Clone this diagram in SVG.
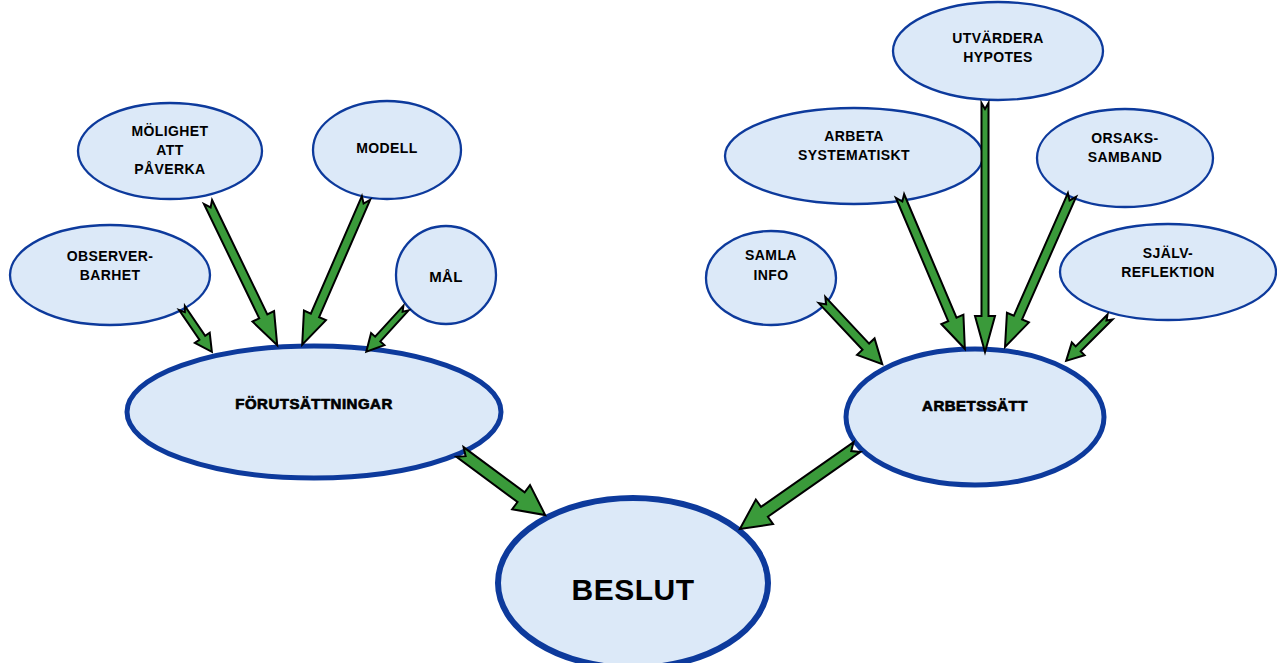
<svg xmlns="http://www.w3.org/2000/svg" width="1277" height="663" viewBox="0 0 1277 663">
<defs>
<style>
.n{fill:#dce9f8;stroke:#0d3a9c;stroke-width:2.3}
.big{stroke-width:5}
.huge{stroke-width:6}
.t{font-family:"Liberation Sans",Arial,sans-serif;font-weight:bold;font-size:14px;letter-spacing:0.4px;fill:#000;text-anchor:middle}
.tm{font-size:15px;letter-spacing:0.5px;stroke:#000;stroke-width:0.7}
.tb{font-size:30px;letter-spacing:0.5px}
.a{fill:#3a9a3a;stroke:#000;stroke-width:2;stroke-linejoin:miter}
</style>
</defs>
<rect width="1277" height="663" fill="#fff"/>
<g id="observerbarhet"><ellipse class="n" cx="110" cy="275" rx="100" ry="50"/><text class="t" x="110" y="261">OBSERVER-</text><text class="t" x="110" y="280">BARHET</text></g>
<g id="molighet"><ellipse class="n" cx="170" cy="151" rx="92" ry="48"/><text class="t" x="170" y="136">MÖLIGHET</text><text class="t" x="170" y="155">ATT</text><text class="t" x="170" y="174">PÅVERKA</text></g>
<g id="modell"><ellipse class="n" cx="387" cy="150" rx="74" ry="49"/><text class="t" x="387" y="153">MODELL</text></g>
<g id="mal"><ellipse class="n" cx="446" cy="275" rx="50" ry="49"/><text class="t" x="446" y="282" style="font-size:15px">MÅL</text></g>
<g id="forutsattningar"><ellipse class="n big" cx="314" cy="412" rx="187" ry="66"/><text class="t tm" x="314" y="409">FÖRUTSÄTTNINGAR</text></g>
<g id="beslut"><ellipse class="n huge" cx="633" cy="583" rx="135" ry="85"/><text class="t tb" x="633" y="600">BESLUT</text></g>
<g id="utvardera"><ellipse class="n" cx="998" cy="51" rx="105" ry="49"/><text class="t" x="998" y="43">UTVÄRDERA</text><text class="t" x="998" y="62">HYPOTES</text></g>
<g id="arbeta"><ellipse class="n" cx="854" cy="156" rx="129" ry="48"/><text class="t" x="854" y="141">ARBETA</text><text class="t" x="854" y="160">SYSTEMATISKT</text></g>
<g id="orsaks"><ellipse class="n" cx="1125" cy="158" rx="88" ry="49"/><text class="t" x="1125" y="143">ORSAKS-</text><text class="t" x="1125" y="162">SAMBAND</text></g>
<g id="samla"><ellipse class="n" cx="771" cy="278" rx="65" ry="47"/><text class="t" x="771" y="260">SAMLA</text><text class="t" x="771" y="280">INFO</text></g>
<g id="sjalv"><ellipse class="n" cx="1168" cy="272" rx="108" ry="48"/><text class="t" x="1168" y="258">SJÄLV-</text><text class="t" x="1168" y="277">REFLEKTION</text></g>
<g id="arbetssatt"><ellipse class="n big" cx="975" cy="417" rx="129" ry="68"/><text class="t tm" x="975" y="411">ARBETSSÄTT</text></g>
<g id="connectors">
<polygon class="a" transform="translate(182,308) rotate(55.7)" points="0,-3.5 36,-3.5 36,-9 53,0 36,9 36,3.5 0,3.5 5,0"/>
<polygon class="a" transform="translate(208,202) rotate(64.2)" points="0,-4.5 127,-4.5 127,-12 159,0 127,12 127,4.5 0,4.5 6,0"/>
<polygon class="a" transform="translate(366,198) rotate(113.5)" points="0,-4.5 128,-4.5 128,-12 160,0 128,12 128,4.5 0,4.5 6,0"/>
<polygon class="a" transform="translate(406,308) rotate(132.3)" points="0,-3.5 42,-3.5 42,-9 59,0 42,9 42,3.5 0,3.5 5,0"/>
<polygon class="a" transform="translate(460,452) rotate(36.5)" points="0,-6 76,-6 76,-15 106,0 76,15 76,6 0,6 7,0"/>
<polygon class="a" transform="translate(857,447) rotate(145)" points="0,-6 113,-6 113,-15 143,0 113,15 113,6 0,6 7,0"/>
<polygon class="a" transform="translate(822,300) rotate(46.8)" points="0,-4.5 64,-4.5 64,-12 88,0 64,12 64,4.5 0,4.5 6,0"/>
<polygon class="a" transform="translate(900,196) rotate(67)" points="0,-4.5 134,-4.5 134,-12 166,0 134,12 134,4.5 0,4.5 6,0"/>
<polygon class="a" transform="translate(985,103) rotate(90)" points="0,-3.5 213,-3.5 213,-10 249,0 213,10 213,3.5 0,3.5 6,0"/>
<polygon class="a" transform="translate(1072,195) rotate(113.8)" points="0,-4.5 134,-4.5 134,-12 166,0 134,12 134,4.5 0,4.5 6,0"/>
<polygon class="a" transform="translate(1110,317) rotate(135)" points="0,-3.5 45,-3.5 45,-9 62,0 45,9 45,3.5 0,3.5 5,0"/>
</g>
</svg>
